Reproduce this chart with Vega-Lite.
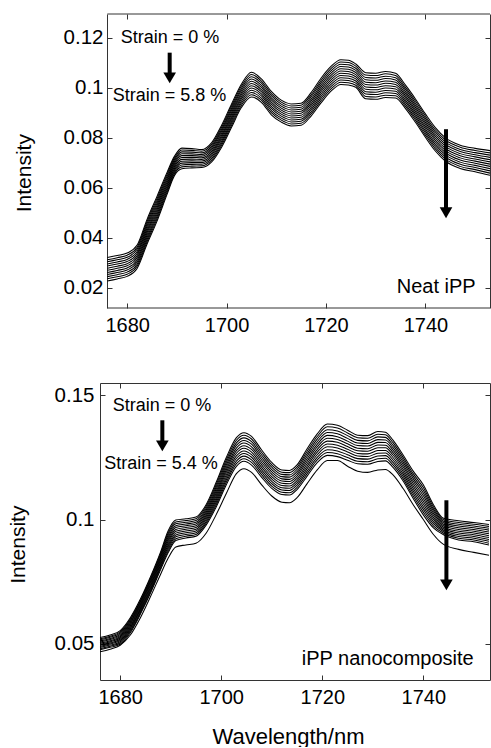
{
  "$schema": "https://vega.github.io/schema/vega-lite/v6.json",
  "background": "white",
  "padding": {"left": 7, "top": 13, "right": 0, "bottom": 0},
  "spacing": 46,
  "config": {
    "view": {"stroke": null},
    "font": "Liberation Sans",
    "axis": {"labelFont": "Liberation Sans", "titleFont": "Liberation Sans", "labelColor": "#000", "titleColor": "#000", "tickColor": "#333", "domainColor": "#333", "titleFontWeight": "normal", "grid": false, "labelFlush": false, "tickWidth": 1, "domainWidth": 1}
  },
  "vconcat": [
    {
      "width": 390,
      "height": 294,
      "layer": [
        {
          "data": {"values": [
            {"x":1676,"c0":0.032,"c1":0.03115,"c2":0.0303,"c3":0.02945,"c4":0.0286,"c5":0.02775,"c6":0.0269,"c7":0.02605,"c8":0.0252,"c9":0.02435,"c10":0.0235,"c11":0.02265},
            {"x":1678,"c0":0.0328,"c1":0.03195,"c2":0.0311,"c3":0.03025,"c4":0.0294,"c5":0.02855,"c6":0.0277,"c7":0.02685,"c8":0.026,"c9":0.02515,"c10":0.0243,"c11":0.02345},
            {"x":1680,"c0":0.0338,"c1":0.03295,"c2":0.0321,"c3":0.03125,"c4":0.0304,"c5":0.02955,"c6":0.0287,"c7":0.02785,"c8":0.027,"c9":0.02615,"c10":0.0253,"c11":0.02445},
            {"x":1682,"c0":0.037,"c1":0.03615,"c2":0.0353,"c3":0.03445,"c4":0.0336,"c5":0.03275,"c6":0.0319,"c7":0.03105,"c8":0.0302,"c9":0.02935,"c10":0.0285,"c11":0.02765},
            {"x":1684,"c0":0.0473,"c1":0.0464,"c2":0.0455,"c3":0.0446,"c4":0.0437,"c5":0.0428,"c6":0.0419,"c7":0.041,"c8":0.0401,"c9":0.0392,"c10":0.0383,"c11":0.0374},
            {"x":1686,"c0":0.0565,"c1":0.0556,"c2":0.0547,"c3":0.0538,"c4":0.0529,"c5":0.052,"c6":0.0511,"c7":0.0502,"c8":0.0493,"c9":0.0484,"c10":0.0475,"c11":0.0466},
            {"x":1688,"c0":0.066,"c1":0.0652,"c2":0.0644,"c3":0.0636,"c4":0.0628,"c5":0.062,"c6":0.0612,"c7":0.0604,"c8":0.0596,"c9":0.0588,"c10":0.058,"c11":0.0572},
            {"x":1689.5,"c0":0.0725,"c1":0.0718,"c2":0.0711,"c3":0.0704,"c4":0.0697,"c5":0.069,"c6":0.0683,"c7":0.0676,"c8":0.0669,"c9":0.0662,"c10":0.0655,"c11":0.0648},
            {"x":1691,"c0":0.0758,"c1":0.07505,"c2":0.0743,"c3":0.07355,"c4":0.0728,"c5":0.07205,"c6":0.0713,"c7":0.07055,"c8":0.0698,"c9":0.06905,"c10":0.0683,"c11":0.06755},
            {"x":1693,"c0":0.0756,"c1":0.0749,"c2":0.0742,"c3":0.0735,"c4":0.0728,"c5":0.0721,"c6":0.0714,"c7":0.0707,"c8":0.07,"c9":0.0693,"c10":0.0686,"c11":0.0679},
            {"x":1695,"c0":0.0752,"c1":0.07455,"c2":0.0739,"c3":0.07325,"c4":0.0726,"c5":0.07195,"c6":0.0713,"c7":0.07065,"c8":0.07,"c9":0.06935,"c10":0.0687,"c11":0.06805},
            {"x":1697,"c0":0.078,"c1":0.0773,"c2":0.0766,"c3":0.0759,"c4":0.0752,"c5":0.0745,"c6":0.0738,"c7":0.0731,"c8":0.0724,"c9":0.0717,"c10":0.071,"c11":0.0703},
            {"x":1699,"c0":0.085,"c1":0.0842,"c2":0.0834,"c3":0.0826,"c4":0.0818,"c5":0.081,"c6":0.0802,"c7":0.0794,"c8":0.0786,"c9":0.0778,"c10":0.077,"c11":0.0762},
            {"x":1701,"c0":0.0935,"c1":0.09265,"c2":0.0918,"c3":0.09095,"c4":0.0901,"c5":0.08925,"c6":0.0884,"c7":0.08755,"c8":0.0867,"c9":0.08585,"c10":0.085,"c11":0.08415},
            {"x":1703,"c0":0.1015,"c1":0.10065,"c2":0.0998,"c3":0.09895,"c4":0.0981,"c5":0.09725,"c6":0.0964,"c7":0.09555,"c8":0.0947,"c9":0.09385,"c10":0.093,"c11":0.09215},
            {"x":1705,"c0":0.1062,"c1":0.1053,"c2":0.1044,"c3":0.1035,"c4":0.1026,"c5":0.1017,"c6":0.1008,"c7":0.0999,"c8":0.099,"c9":0.0981,"c10":0.0972,"c11":0.0963},
            {"x":1707,"c0":0.1035,"c1":0.10265,"c2":0.1018,"c3":0.10095,"c4":0.1001,"c5":0.09925,"c6":0.0984,"c7":0.09755,"c8":0.0967,"c9":0.09585,"c10":0.095,"c11":0.09415},
            {"x":1709,"c0":0.0985,"c1":0.09765,"c2":0.0968,"c3":0.09595,"c4":0.0951,"c5":0.09425,"c6":0.0934,"c7":0.09255,"c8":0.0917,"c9":0.09085,"c10":0.09,"c11":0.08915},
            {"x":1711,"c0":0.095,"c1":0.0942,"c2":0.0934,"c3":0.0926,"c4":0.0918,"c5":0.091,"c6":0.0902,"c7":0.0894,"c8":0.0886,"c9":0.0878,"c10":0.087,"c11":0.0862},
            {"x":1713,"c0":0.0935,"c1":0.0927,"c2":0.0919,"c3":0.0911,"c4":0.0903,"c5":0.0895,"c6":0.0887,"c7":0.0879,"c8":0.0871,"c9":0.0863,"c10":0.0855,"c11":0.0847},
            {"x":1715,"c0":0.0938,"c1":0.093,"c2":0.0922,"c3":0.0914,"c4":0.0906,"c5":0.0898,"c6":0.089,"c7":0.0882,"c8":0.0874,"c9":0.0866,"c10":0.0858,"c11":0.085},
            {"x":1717,"c0":0.098,"c1":0.09715,"c2":0.0963,"c3":0.09545,"c4":0.0946,"c5":0.09375,"c6":0.0929,"c7":0.09205,"c8":0.0912,"c9":0.09035,"c10":0.0895,"c11":0.08865},
            {"x":1719,"c0":0.1038,"c1":0.1029,"c2":0.102,"c3":0.1011,"c4":0.1002,"c5":0.0993,"c6":0.0984,"c7":0.0975,"c8":0.0966,"c9":0.0957,"c10":0.0948,"c11":0.0939},
            {"x":1721,"c0":0.1085,"c1":0.1076,"c2":0.1067,"c3":0.1058,"c4":0.1049,"c5":0.104,"c6":0.1031,"c7":0.1022,"c8":0.1013,"c9":0.1004,"c10":0.0995,"c11":0.0986},
            {"x":1723,"c0":0.1112,"c1":0.1103,"c2":0.1094,"c3":0.1085,"c4":0.1076,"c5":0.1067,"c6":0.1058,"c7":0.1049,"c8":0.104,"c9":0.1031,"c10":0.1022,"c11":0.1013},
            {"x":1724.5,"c0":0.111,"c1":0.1101,"c2":0.1092,"c3":0.1083,"c4":0.1074,"c5":0.1065,"c6":0.1056,"c7":0.1047,"c8":0.1038,"c9":0.1029,"c10":0.102,"c11":0.1011},
            {"x":1726,"c0":0.1095,"c1":0.10865,"c2":0.1078,"c3":0.10695,"c4":0.1061,"c5":0.10525,"c6":0.1044,"c7":0.10355,"c8":0.1027,"c9":0.10185,"c10":0.101,"c11":0.10015},
            {"x":1728,"c0":0.106,"c1":0.10505,"c2":0.1041,"c3":0.10315,"c4":0.1022,"c5":0.10125,"c6":0.1003,"c7":0.09935,"c8":0.0984,"c9":0.09745,"c10":0.0965,"c11":0.09555},
            {"x":1730,"c0":0.1058,"c1":0.10485,"c2":0.1039,"c3":0.10295,"c4":0.102,"c5":0.10105,"c6":0.1001,"c7":0.09915,"c8":0.0982,"c9":0.09725,"c10":0.0963,"c11":0.09535},
            {"x":1732,"c0":0.1065,"c1":0.10555,"c2":0.1046,"c3":0.10365,"c4":0.1027,"c5":0.10175,"c6":0.1008,"c7":0.09985,"c8":0.0989,"c9":0.09795,"c10":0.097,"c11":0.09605},
            {"x":1734,"c0":0.1058,"c1":0.1049,"c2":0.104,"c3":0.1031,"c4":0.1022,"c5":0.1013,"c6":0.1004,"c7":0.0995,"c8":0.0986,"c9":0.0977,"c10":0.0968,"c11":0.0959},
            {"x":1736,"c0":0.101,"c1":0.10015,"c2":0.0993,"c3":0.09845,"c4":0.0976,"c5":0.09675,"c6":0.0959,"c7":0.09505,"c8":0.0942,"c9":0.09335,"c10":0.0925,"c11":0.09165},
            {"x":1738,"c0":0.0955,"c1":0.09465,"c2":0.0938,"c3":0.09295,"c4":0.0921,"c5":0.09125,"c6":0.0904,"c7":0.08955,"c8":0.0887,"c9":0.08785,"c10":0.087,"c11":0.08615},
            {"x":1740,"c0":0.0895,"c1":0.08865,"c2":0.0878,"c3":0.08695,"c4":0.0861,"c5":0.08525,"c6":0.0844,"c7":0.08355,"c8":0.0827,"c9":0.08185,"c10":0.081,"c11":0.08015},
            {"x":1742,"c0":0.084,"c1":0.08315,"c2":0.0823,"c3":0.08145,"c4":0.0806,"c5":0.07975,"c6":0.0789,"c7":0.07805,"c8":0.0772,"c9":0.07635,"c10":0.0755,"c11":0.07465},
            {"x":1744,"c0":0.08,"c1":0.07915,"c2":0.0783,"c3":0.07745,"c4":0.0766,"c5":0.07575,"c6":0.0749,"c7":0.07405,"c8":0.0732,"c9":0.07235,"c10":0.0715,"c11":0.07065},
            {"x":1747,"c0":0.077,"c1":0.07615,"c2":0.0753,"c3":0.07445,"c4":0.0736,"c5":0.07275,"c6":0.0719,"c7":0.07105,"c8":0.0702,"c9":0.06935,"c10":0.0685,"c11":0.06765},
            {"x":1750,"c0":0.0757,"c1":0.07485,"c2":0.074,"c3":0.07315,"c4":0.0723,"c5":0.07145,"c6":0.0706,"c7":0.06975,"c8":0.0689,"c9":0.06805,"c10":0.0672,"c11":0.06635},
            {"x":1753,"c0":0.0748,"c1":0.0739,"c2":0.073,"c3":0.0721,"c4":0.0712,"c5":0.0703,"c6":0.0694,"c7":0.0685,"c8":0.0676,"c9":0.0667,"c10":0.0658,"c11":0.0649}
          ]},
          "transform": [{"fold": ["c0","c1","c2","c3","c4","c5","c6","c7","c8","c9","c10","c11"], "as": ["curve","y"]}],
          "mark": {"type": "line", "color": "#000", "strokeWidth": 1.05, "interpolate": "monotone"},
          "encoding": {
            "x": {"field": "x", "type": "quantitative", "scale": {"domain": [1674.53, 1753], "nice": false, "zero": false},
                  "axis": {"orient": "bottom", "values": [1680,1700,1720,1740], "format": "d", "title": null, "domain": false, "tickSize": -5, "labelPadding": 12.5, "labelFontSize": 20}},
            "y": {"field": "y", "type": "quantitative", "scale": {"domain": [0.0118, 0.1295], "nice": false, "zero": false},
                  "axis": {"orient": "left", "values": [0.02,0.04,0.06,0.08,0.1,0.12], "format": "~g", "offset": -7, "tickSize": -5, "labelPadding": 9, "labelFontSize": 20.5, "title": "Intensity", "titleFontSize": 21, "titleX": -73, "titleY": 158.7}},
            "detail": {"field": "curve", "type": "nominal"}
          }
        },
        {
          "data": {"values": [{"x": 1676, "x2": 1753, "y": 0.0118}, {"x": 1676, "x2": 1753, "y": 0.1295}]},
          "mark": {"type": "rule", "color": "#333", "strokeWidth": 1},
          "encoding": {
            "x": {"field": "x", "type": "quantitative", "scale": {"domain": [1674.53, 1753], "nice": false, "zero": false}, "axis": null},
            "x2": {"field": "x2"},
            "y": {"field": "y", "type": "quantitative", "scale": {"domain": [0.0118, 0.1295], "nice": false, "zero": false}, "axis": null}
          }
        },
        {
          "data": {"values": [{"x": 1678.7, "y": 0.1178, "t": "Strain = 0 %"}, {"x": 1677.09, "y": 0.0947, "t": "Strain = 5.8 %"}]},
          "mark": {"type": "text", "align": "left", "baseline": "alphabetic", "fontSize": 18, "font": "Liberation Sans", "color": "#000"},
          "encoding": {
            "x": {"field": "x", "type": "quantitative", "scale": {"domain": [1674.53, 1753], "nice": false, "zero": false},
                  "axis": {"orient": "top", "values": [1680,1700,1720,1740], "labels": false, "domain": false, "tickSize": -5, "title": null}},
            "y": {"field": "y", "type": "quantitative", "scale": {"domain": [0.0118, 0.1295], "nice": false, "zero": false},
                  "axis": {"orient": "right", "values": [0.02,0.04,0.06,0.08,0.1,0.12], "labels": false, "domain": true, "tickSize": -5, "title": null}},
            "text": {"field": "t"}
          }
        },
        {
          "data": {"values": [{"x": 1734.23, "y": 0.01778, "t": "Neat iPP"}]},
          "mark": {"type": "text", "align": "left", "baseline": "alphabetic", "fontSize": 20, "font": "Liberation Sans", "color": "#000"},
          "encoding": {
            "x": {"field": "x", "type": "quantitative", "scale": {"domain": [1674.53, 1753], "nice": false, "zero": false}, "axis": null},
            "y": {"field": "y", "type": "quantitative", "scale": {"domain": [0.0118, 0.1295], "nice": false, "zero": false}, "axis": null},
            "text": {"field": "t"}
          }
        },
        {
          "data": {"values": [{"x": 1688.55, "y": 0.11402, "y2": 0.10418, "tip": 0.10178}, {"x": 1744.15, "y": 0.08338, "y2": 0.05018, "tip": 0.04778}]},
          "layer": [
            {
              "mark": {"type": "rule", "color": "#000", "strokeWidth": 4},
              "encoding": {
                "x": {"field": "x", "type": "quantitative", "scale": {"domain": [1674.53, 1753], "nice": false, "zero": false}, "axis": null},
                "y": {"field": "y", "type": "quantitative", "scale": {"domain": [0.0118, 0.1295], "nice": false, "zero": false}, "axis": null},
                "y2": {"field": "y2"}
              }
            },
            {
              "mark": {"type": "point", "shape": "M-1,-1.7L1,-1.7L0,0Z", "filled": true, "color": "#000", "opacity": 1, "size": 160, "strokeWidth": 0},
              "encoding": {
                "x": {"field": "x", "type": "quantitative", "scale": {"domain": [1674.53, 1753], "nice": false, "zero": false}, "axis": null},
                "y": {"field": "tip", "type": "quantitative", "scale": {"domain": [0.0118, 0.1295], "nice": false, "zero": false}, "axis": null}
              }
            }
          ]
        }
      ],
      "resolve": {"axis": {"x": "independent", "y": "independent"}}
    },
    {
      "width": 390,
      "height": 297,
      "layer": [
        {
          "data": {"values": [
            {"x":1676,"c0":0.0525,"c1":0.05205,"c2":0.0516,"c3":0.05115,"c4":0.0507,"c5":0.05025,"c6":0.0498,"c7":0.04935,"c8":0.0489,"c9":0.04845,"c10":0.048,"c11":0.04755,"c12":0.0468},
            {"x":1678,"c0":0.0535,"c1":0.05305,"c2":0.0526,"c3":0.05215,"c4":0.0517,"c5":0.05125,"c6":0.0508,"c7":0.05035,"c8":0.0499,"c9":0.04945,"c10":0.049,"c11":0.04855,"c12":0.0478},
            {"x":1680,"c0":0.0553,"c1":0.0548,"c2":0.0543,"c3":0.0538,"c4":0.0533,"c5":0.0528,"c6":0.0523,"c7":0.0518,"c8":0.0513,"c9":0.0508,"c10":0.0503,"c11":0.0498,"c12":0.0494},
            {"x":1682,"c0":0.0605,"c1":0.05995,"c2":0.0594,"c3":0.05885,"c4":0.0583,"c5":0.05775,"c6":0.0572,"c7":0.05665,"c8":0.0561,"c9":0.05555,"c10":0.055,"c11":0.05445,"c12":0.0535},
            {"x":1684,"c0":0.068,"c1":0.06745,"c2":0.0669,"c3":0.06635,"c4":0.0658,"c5":0.06525,"c6":0.0647,"c7":0.06415,"c8":0.0636,"c9":0.06305,"c10":0.0625,"c11":0.06195,"c12":0.0605},
            {"x":1686,"c0":0.077,"c1":0.0764,"c2":0.0758,"c3":0.0752,"c4":0.0746,"c5":0.074,"c6":0.0734,"c7":0.0728,"c8":0.0722,"c9":0.0716,"c10":0.071,"c11":0.0704,"c12":0.069},
            {"x":1688,"c0":0.087,"c1":0.08635,"c2":0.0857,"c3":0.08505,"c4":0.0844,"c5":0.08375,"c6":0.0831,"c7":0.08245,"c8":0.0818,"c9":0.08115,"c10":0.0805,"c11":0.07985,"c12":0.078},
            {"x":1689.5,"c0":0.0955,"c1":0.0947,"c2":0.0939,"c3":0.0931,"c4":0.0923,"c5":0.0915,"c6":0.0907,"c7":0.0899,"c8":0.0891,"c9":0.0883,"c10":0.0875,"c11":0.0867,"c12":0.0845},
            {"x":1691,"c0":0.0998,"c1":0.09905,"c2":0.0983,"c3":0.09755,"c4":0.0968,"c5":0.09605,"c6":0.0953,"c7":0.09455,"c8":0.0938,"c9":0.09305,"c10":0.0923,"c11":0.09155,"c12":0.089},
            {"x":1693,"c0":0.1003,"c1":0.0996,"c2":0.0989,"c3":0.0982,"c4":0.0975,"c5":0.0968,"c6":0.0961,"c7":0.0954,"c8":0.0947,"c9":0.094,"c10":0.0933,"c11":0.0926,"c12":0.0898},
            {"x":1695,"c0":0.101,"c1":0.1003,"c2":0.0996,"c3":0.0989,"c4":0.0982,"c5":0.0975,"c6":0.0968,"c7":0.0961,"c8":0.0954,"c9":0.0947,"c10":0.094,"c11":0.0933,"c12":0.0905},
            {"x":1697,"c0":0.106,"c1":0.10525,"c2":0.1045,"c3":0.10375,"c4":0.103,"c5":0.10225,"c6":0.1015,"c7":0.10075,"c8":0.1,"c9":0.09925,"c10":0.0985,"c11":0.09775,"c12":0.0945},
            {"x":1699,"c0":0.115,"c1":0.1141,"c2":0.1132,"c3":0.1123,"c4":0.1114,"c5":0.1105,"c6":0.1096,"c7":0.1087,"c8":0.1078,"c9":0.1069,"c10":0.106,"c11":0.1051,"c12":0.102},
            {"x":1701,"c0":0.125,"c1":0.124,"c2":0.123,"c3":0.122,"c4":0.121,"c5":0.12,"c6":0.119,"c7":0.118,"c8":0.117,"c9":0.116,"c10":0.115,"c11":0.114,"c12":0.1105},
            {"x":1703,"c0":0.133,"c1":0.13195,"c2":0.1309,"c3":0.12985,"c4":0.1288,"c5":0.12775,"c6":0.1267,"c7":0.12565,"c8":0.1246,"c9":0.12355,"c10":0.1225,"c11":0.12145,"c12":0.1185},
            {"x":1704.5,"c0":0.135,"c1":0.13395,"c2":0.1329,"c3":0.13185,"c4":0.1308,"c5":0.12975,"c6":0.1287,"c7":0.12765,"c8":0.1266,"c9":0.12555,"c10":0.1245,"c11":0.12345,"c12":0.1205},
            {"x":1706,"c0":0.1335,"c1":0.13245,"c2":0.1314,"c3":0.13035,"c4":0.1293,"c5":0.12825,"c6":0.1272,"c7":0.12615,"c8":0.1251,"c9":0.12405,"c10":0.123,"c11":0.12195,"c12":0.119},
            {"x":1708,"c0":0.128,"c1":0.127,"c2":0.126,"c3":0.125,"c4":0.124,"c5":0.123,"c6":0.122,"c7":0.121,"c8":0.12,"c9":0.119,"c10":0.118,"c11":0.117,"c12":0.114},
            {"x":1710,"c0":0.123,"c1":0.12205,"c2":0.1211,"c3":0.12015,"c4":0.1192,"c5":0.11825,"c6":0.1173,"c7":0.11635,"c8":0.1154,"c9":0.11445,"c10":0.1135,"c11":0.11255,"c12":0.1095},
            {"x":1712,"c0":0.12,"c1":0.1191,"c2":0.1182,"c3":0.1173,"c4":0.1164,"c5":0.1155,"c6":0.1146,"c7":0.1137,"c8":0.1128,"c9":0.1119,"c10":0.111,"c11":0.1101,"c12":0.107},
            {"x":1713.5,"c0":0.1198,"c1":0.1189,"c2":0.118,"c3":0.1171,"c4":0.1162,"c5":0.1153,"c6":0.1144,"c7":0.1135,"c8":0.1126,"c9":0.1117,"c10":0.1108,"c11":0.1099,"c12":0.1068},
            {"x":1715,"c0":0.122,"c1":0.1211,"c2":0.1202,"c3":0.1193,"c4":0.1184,"c5":0.1175,"c6":0.1166,"c7":0.1157,"c8":0.1148,"c9":0.1139,"c10":0.113,"c11":0.1121,"c12":0.1088},
            {"x":1717,"c0":0.1285,"c1":0.1275,"c2":0.1265,"c3":0.1255,"c4":0.1245,"c5":0.1235,"c6":0.1225,"c7":0.1215,"c8":0.1205,"c9":0.1195,"c10":0.1185,"c11":0.1175,"c12":0.1145},
            {"x":1719,"c0":0.1345,"c1":0.13345,"c2":0.1324,"c3":0.13135,"c4":0.1303,"c5":0.12925,"c6":0.1282,"c7":0.12715,"c8":0.1261,"c9":0.12505,"c10":0.124,"c11":0.12295,"c12":0.12},
            {"x":1721,"c0":0.1385,"c1":0.13735,"c2":0.1362,"c3":0.13505,"c4":0.1339,"c5":0.13275,"c6":0.1316,"c7":0.13045,"c8":0.1293,"c9":0.12815,"c10":0.127,"c11":0.12585,"c12":0.1238},
            {"x":1723,"c0":0.138,"c1":0.13685,"c2":0.1357,"c3":0.13455,"c4":0.1334,"c5":0.13225,"c6":0.1311,"c7":0.12995,"c8":0.1288,"c9":0.12765,"c10":0.1265,"c11":0.12535,"c12":0.1238},
            {"x":1725,"c0":0.136,"c1":0.1349,"c2":0.1338,"c3":0.1327,"c4":0.1316,"c5":0.1305,"c6":0.1294,"c7":0.1283,"c8":0.1272,"c9":0.1261,"c10":0.125,"c11":0.1239,"c12":0.1215},
            {"x":1727,"c0":0.134,"c1":0.13295,"c2":0.1319,"c3":0.13085,"c4":0.1298,"c5":0.12875,"c6":0.1277,"c7":0.12665,"c8":0.1256,"c9":0.12455,"c10":0.1235,"c11":0.12245,"c12":0.1195},
            {"x":1729,"c0":0.1338,"c1":0.13275,"c2":0.1317,"c3":0.13065,"c4":0.1296,"c5":0.12855,"c6":0.1275,"c7":0.12645,"c8":0.1254,"c9":0.12435,"c10":0.1233,"c11":0.12225,"c12":0.119},
            {"x":1731,"c0":0.1355,"c1":0.1344,"c2":0.1333,"c3":0.1322,"c4":0.1311,"c5":0.13,"c6":0.1289,"c7":0.1278,"c8":0.1267,"c9":0.1256,"c10":0.1245,"c11":0.1234,"c12":0.12},
            {"x":1732.5,"c0":0.1352,"c1":0.13415,"c2":0.1331,"c3":0.13205,"c4":0.131,"c5":0.12995,"c6":0.1289,"c7":0.12785,"c8":0.1268,"c9":0.12575,"c10":0.1247,"c11":0.12365,"c12":0.1202},
            {"x":1734,"c0":0.132,"c1":0.131,"c2":0.13,"c3":0.129,"c4":0.128,"c5":0.127,"c6":0.126,"c7":0.125,"c8":0.124,"c9":0.123,"c10":0.122,"c11":0.121,"c12":0.118},
            {"x":1736,"c0":0.126,"c1":0.12505,"c2":0.1241,"c3":0.12315,"c4":0.1222,"c5":0.12125,"c6":0.1203,"c7":0.11935,"c8":0.1184,"c9":0.11745,"c10":0.1165,"c11":0.11555,"c12":0.1125},
            {"x":1738,"c0":0.1195,"c1":0.1185,"c2":0.1175,"c3":0.1165,"c4":0.1155,"c5":0.1145,"c6":0.1135,"c7":0.1125,"c8":0.1115,"c9":0.1105,"c10":0.1095,"c11":0.1085,"c12":0.106},
            {"x":1740,"c0":0.114,"c1":0.1129,"c2":0.1118,"c3":0.1107,"c4":0.1096,"c5":0.1085,"c6":0.1074,"c7":0.1063,"c8":0.1052,"c9":0.1041,"c10":0.103,"c11":0.1019,"c12":0.1},
            {"x":1742,"c0":0.106,"c1":0.10515,"c2":0.1043,"c3":0.10345,"c4":0.1026,"c5":0.10175,"c6":0.1009,"c7":0.10005,"c8":0.0992,"c9":0.09835,"c10":0.0975,"c11":0.09665,"c12":0.094},
            {"x":1744,"c0":0.1005,"c1":0.0999,"c2":0.0993,"c3":0.0987,"c4":0.0981,"c5":0.0975,"c6":0.0969,"c7":0.0963,"c8":0.0957,"c9":0.0951,"c10":0.0945,"c11":0.0939,"c12":0.09},
            {"x":1747,"c0":0.0995,"c1":0.0988,"c2":0.0981,"c3":0.0974,"c4":0.0967,"c5":0.096,"c6":0.0953,"c7":0.0946,"c8":0.0939,"c9":0.0932,"c10":0.0925,"c11":0.0918,"c12":0.088},
            {"x":1750,"c0":0.0988,"c1":0.0981,"c2":0.0974,"c3":0.0967,"c4":0.096,"c5":0.0953,"c6":0.0946,"c7":0.0939,"c8":0.0932,"c9":0.0925,"c10":0.0918,"c11":0.0911,"c12":0.0868},
            {"x":1753,"c0":0.098,"c1":0.09725,"c2":0.0965,"c3":0.09575,"c4":0.095,"c5":0.09425,"c6":0.0935,"c7":0.09275,"c8":0.092,"c9":0.09125,"c10":0.0905,"c11":0.08975,"c12":0.0856}
          ]},
          "transform": [{"fold": ["c0","c1","c2","c3","c4","c5","c6","c7","c8","c9","c10","c11","c12"], "as": ["curve","y"]}],
          "mark": {"type": "line", "color": "#000", "strokeWidth": 1.05, "interpolate": "monotone"},
          "encoding": {
            "x": {"field": "x", "type": "quantitative", "scale": {"domain": [1676, 1753.2], "nice": false, "zero": false},
                  "axis": {"orient": "bottom", "values": [1680,1700,1720,1740], "format": "d", "domain": true, "tickSize": -5, "labelPadding": 12, "labelFontSize": 20, "title": "Wavelength/nm", "titleFontSize": 22, "titleBaseline": "alphabetic", "titleX": 188, "titleY": 63}},
            "y": {"field": "y", "type": "quantitative", "scale": {"domain": [0.0354, 0.155], "nice": false, "zero": false},
                  "axis": {"orient": "left", "values": [0.05,0.1,0.15], "format": "~g", "tickSize": -5, "labelPadding": 11, "labelFontSize": 20.5, "title": "Intensity", "titleFontSize": 21, "titleX": -71.7, "titleY": 161.2}},
            "detail": {"field": "curve", "type": "nominal"}
          }
        },
        {
          "data": {"values": [{"x": 1678.51, "y": 0.14373, "t": "Strain = 0 %"}, {"x": 1676.85, "y": 0.12026, "t": "Strain = 5.4 %"}]},
          "mark": {"type": "text", "align": "left", "baseline": "alphabetic", "fontSize": 18, "font": "Liberation Sans", "color": "#000"},
          "encoding": {
            "x": {"field": "x", "type": "quantitative", "scale": {"domain": [1676, 1753.2], "nice": false, "zero": false},
                  "axis": {"orient": "top", "values": [1680,1700,1720,1740], "labels": false, "domain": true, "tickSize": -5, "title": null}},
            "y": {"field": "y", "type": "quantitative", "scale": {"domain": [0.0354, 0.155], "nice": false, "zero": false},
                  "axis": {"orient": "right", "values": [0.05,0.1,0.15], "labels": false, "domain": true, "tickSize": -5, "title": null}},
            "text": {"field": "t"}
          }
        },
        {
          "data": {"values": [{"x": 1715.94, "y": 0.04135, "t": "iPP nanocomposite"}]},
          "mark": {"type": "text", "align": "left", "baseline": "alphabetic", "fontSize": 20, "font": "Liberation Sans", "color": "#000"},
          "encoding": {
            "x": {"field": "x", "type": "quantitative", "scale": {"domain": [1676, 1753.2], "nice": false, "zero": false}, "axis": null},
            "y": {"field": "y", "type": "quantitative", "scale": {"domain": [0.0354, 0.155], "nice": false, "zero": false}, "axis": null},
            "text": {"field": "t"}
          }
        },
        {
          "data": {"values": [{"x": 1688.34, "y": 0.13998, "y2": 0.12992, "tip": 0.1275}, {"x": 1744.57, "y": 0.10778, "y2": 0.07397, "tip": 0.07155}]},
          "layer": [
            {
              "mark": {"type": "rule", "color": "#000", "strokeWidth": 4},
              "encoding": {
                "x": {"field": "x", "type": "quantitative", "scale": {"domain": [1676, 1753.2], "nice": false, "zero": false}, "axis": null},
                "y": {"field": "y", "type": "quantitative", "scale": {"domain": [0.0354, 0.155], "nice": false, "zero": false}, "axis": null},
                "y2": {"field": "y2"}
              }
            },
            {
              "mark": {"type": "point", "shape": "M-1,-1.7L1,-1.7L0,0Z", "filled": true, "color": "#000", "opacity": 1, "size": 160, "strokeWidth": 0},
              "encoding": {
                "x": {"field": "x", "type": "quantitative", "scale": {"domain": [1676, 1753.2], "nice": false, "zero": false}, "axis": null},
                "y": {"field": "tip", "type": "quantitative", "scale": {"domain": [0.0354, 0.155], "nice": false, "zero": false}, "axis": null}
              }
            }
          ]
        }
      ],
      "resolve": {"axis": {"x": "independent", "y": "independent"}}
    }
  ]
}
